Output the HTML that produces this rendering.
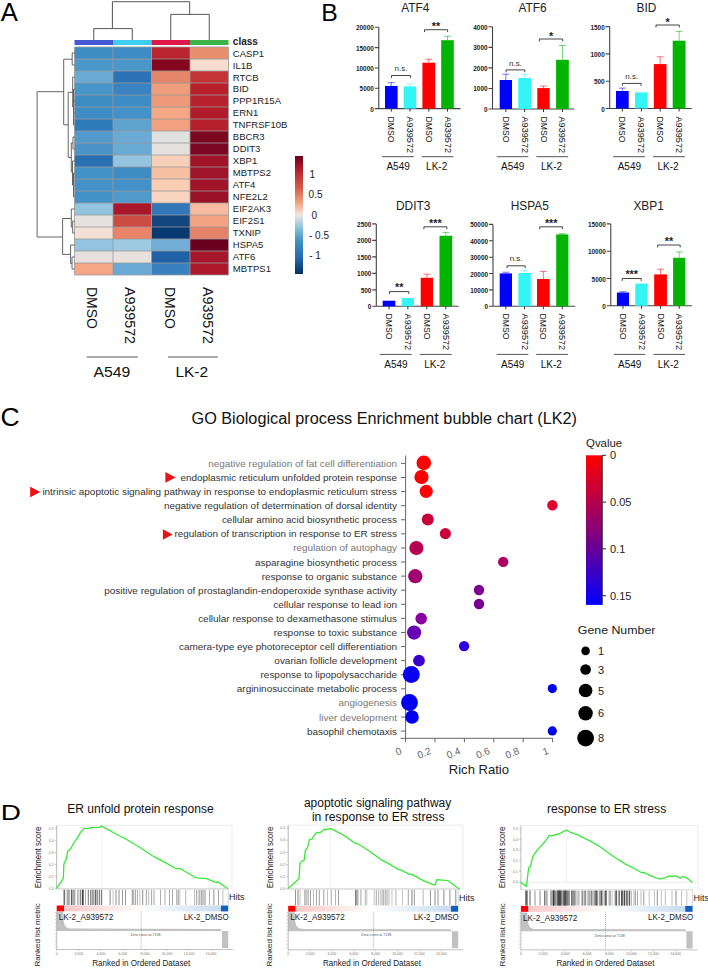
<!DOCTYPE html>
<html><head><meta charset="utf-8"><style>
html,body{margin:0;padding:0;background:#fff;width:708px;height:968px;overflow:hidden}
svg{display:block}
text{font-family:"Liberation Sans",sans-serif}
</style></head><body>
<svg width="708" height="968" viewBox="0 0 708 968">
<rect width="708" height="968" fill="#fff"/>
<text x="0.8" y="21.2" font-size="25.6" fill="#000" text-anchor="start" >A</text>
<rect x="74.5" y="40" width="38.5" height="5" fill="#4458d4"/>
<rect x="113.0" y="40" width="38.5" height="5" fill="#3ccdf0"/>
<rect x="151.5" y="40" width="38.5" height="5" fill="#e0184a"/>
<rect x="190.0" y="40" width="38.5" height="5" fill="#3cb44a"/>
<rect x="74.5" y="47.0" width="38.5" height="12.0" fill="#3f8bc4"/>
<rect x="113.0" y="47.0" width="38.5" height="12.0" fill="#3f8bc4"/>
<rect x="151.5" y="47.0" width="38.5" height="12.0" fill="#b9242e"/>
<rect x="190.0" y="47.0" width="38.5" height="12.0" fill="#ea8f6e"/>
<rect x="74.5" y="59.0" width="38.5" height="12.0" fill="#4b97c9"/>
<rect x="113.0" y="59.0" width="38.5" height="12.0" fill="#4b97c9"/>
<rect x="151.5" y="59.0" width="38.5" height="12.0" fill="#85061f"/>
<rect x="190.0" y="59.0" width="38.5" height="12.0" fill="#f6dccd"/>
<rect x="74.5" y="71.0" width="38.5" height="12.0" fill="#6aaad4"/>
<rect x="113.0" y="71.0" width="38.5" height="12.0" fill="#2b73b5"/>
<rect x="151.5" y="71.0" width="38.5" height="12.0" fill="#e5866a"/>
<rect x="190.0" y="71.0" width="38.5" height="12.0" fill="#c33438"/>
<rect x="74.5" y="83.0" width="38.5" height="12.0" fill="#4595c8"/>
<rect x="113.0" y="83.0" width="38.5" height="12.0" fill="#3a82c0"/>
<rect x="151.5" y="83.0" width="38.5" height="12.0" fill="#ef9c7c"/>
<rect x="190.0" y="83.0" width="38.5" height="12.0" fill="#b7202b"/>
<rect x="74.5" y="95.0" width="38.5" height="12.0" fill="#3d8cc4"/>
<rect x="113.0" y="95.0" width="38.5" height="12.0" fill="#3d8cc4"/>
<rect x="151.5" y="95.0" width="38.5" height="12.0" fill="#ee9a7a"/>
<rect x="190.0" y="95.0" width="38.5" height="12.0" fill="#b8222c"/>
<rect x="74.5" y="107.0" width="38.5" height="12.0" fill="#3d8cc4"/>
<rect x="113.0" y="107.0" width="38.5" height="12.0" fill="#4391c6"/>
<rect x="151.5" y="107.0" width="38.5" height="12.0" fill="#f4a886"/>
<rect x="190.0" y="107.0" width="38.5" height="12.0" fill="#b01b2b"/>
<rect x="74.5" y="119.0" width="38.5" height="12.0" fill="#2f7ab9"/>
<rect x="113.0" y="119.0" width="38.5" height="12.0" fill="#5fa3d0"/>
<rect x="151.5" y="119.0" width="38.5" height="12.0" fill="#f1a080"/>
<rect x="190.0" y="119.0" width="38.5" height="12.0" fill="#b6202c"/>
<rect x="74.5" y="131.0" width="38.5" height="12.0" fill="#529acc"/>
<rect x="113.0" y="131.0" width="38.5" height="12.0" fill="#6aaad4"/>
<rect x="151.5" y="131.0" width="38.5" height="12.0" fill="#e0e0e0"/>
<rect x="190.0" y="131.0" width="38.5" height="12.0" fill="#7a0821"/>
<rect x="74.5" y="143.0" width="38.5" height="12.0" fill="#4a94c8"/>
<rect x="113.0" y="143.0" width="38.5" height="12.0" fill="#6aabd4"/>
<rect x="151.5" y="143.0" width="38.5" height="12.0" fill="#e4e1df"/>
<rect x="190.0" y="143.0" width="38.5" height="12.0" fill="#7c0722"/>
<rect x="74.5" y="155.0" width="38.5" height="12.0" fill="#2a6fb2"/>
<rect x="113.0" y="155.0" width="38.5" height="12.0" fill="#94c4df"/>
<rect x="151.5" y="155.0" width="38.5" height="12.0" fill="#f8cfb8"/>
<rect x="190.0" y="155.0" width="38.5" height="12.0" fill="#a0142a"/>
<rect x="74.5" y="167.0" width="38.5" height="12.0" fill="#4391c6"/>
<rect x="113.0" y="167.0" width="38.5" height="12.0" fill="#3e8cc3"/>
<rect x="151.5" y="167.0" width="38.5" height="12.0" fill="#f6c0a2"/>
<rect x="190.0" y="167.0" width="38.5" height="12.0" fill="#a0142a"/>
<rect x="74.5" y="179.0" width="38.5" height="12.0" fill="#4391c6"/>
<rect x="113.0" y="179.0" width="38.5" height="12.0" fill="#4391c6"/>
<rect x="151.5" y="179.0" width="38.5" height="12.0" fill="#f8cdb4"/>
<rect x="190.0" y="179.0" width="38.5" height="12.0" fill="#a0142a"/>
<rect x="74.5" y="191.0" width="38.5" height="12.0" fill="#4391c6"/>
<rect x="113.0" y="191.0" width="38.5" height="12.0" fill="#4f99cb"/>
<rect x="151.5" y="191.0" width="38.5" height="12.0" fill="#f9d4be"/>
<rect x="190.0" y="191.0" width="38.5" height="12.0" fill="#991227"/>
<rect x="74.5" y="203.0" width="38.5" height="12.0" fill="#92c4de"/>
<rect x="113.0" y="203.0" width="38.5" height="12.0" fill="#a8182a"/>
<rect x="151.5" y="203.0" width="38.5" height="12.0" fill="#3277b7"/>
<rect x="190.0" y="203.0" width="38.5" height="12.0" fill="#f7bca0"/>
<rect x="74.5" y="215.0" width="38.5" height="12.0" fill="#e3e0de"/>
<rect x="113.0" y="215.0" width="38.5" height="12.0" fill="#cc4c44"/>
<rect x="151.5" y="215.0" width="38.5" height="12.0" fill="#13467f"/>
<rect x="190.0" y="215.0" width="38.5" height="12.0" fill="#f4a482"/>
<rect x="74.5" y="227.0" width="38.5" height="12.0" fill="#f4e0d6"/>
<rect x="113.0" y="227.0" width="38.5" height="12.0" fill="#e9846a"/>
<rect x="151.5" y="227.0" width="38.5" height="12.0" fill="#073a73"/>
<rect x="190.0" y="227.0" width="38.5" height="12.0" fill="#e58368"/>
<rect x="74.5" y="239.0" width="38.5" height="12.0" fill="#94c4df"/>
<rect x="113.0" y="239.0" width="38.5" height="12.0" fill="#9dc9e2"/>
<rect x="151.5" y="239.0" width="38.5" height="12.0" fill="#72add5"/>
<rect x="190.0" y="239.0" width="38.5" height="12.0" fill="#6a011f"/>
<rect x="74.5" y="251.0" width="38.5" height="12.0" fill="#e8e0dc"/>
<rect x="113.0" y="251.0" width="38.5" height="12.0" fill="#e8e1dd"/>
<rect x="151.5" y="251.0" width="38.5" height="12.0" fill="#2061a8"/>
<rect x="190.0" y="251.0" width="38.5" height="12.0" fill="#a8162b"/>
<rect x="74.5" y="263.0" width="38.5" height="12.0" fill="#f4a686"/>
<rect x="113.0" y="263.0" width="38.5" height="12.0" fill="#6aaad4"/>
<rect x="151.5" y="263.0" width="38.5" height="12.0" fill="#3980c0"/>
<rect x="190.0" y="263.0" width="38.5" height="12.0" fill="#ad182b"/>
<path d="M74.5,47.0H228.5M74.5,59.0H228.5M74.5,71.0H228.5M74.5,83.0H228.5M74.5,95.0H228.5M74.5,107.0H228.5M74.5,119.0H228.5M74.5,131.0H228.5M74.5,143.0H228.5M74.5,155.0H228.5M74.5,167.0H228.5M74.5,179.0H228.5M74.5,191.0H228.5M74.5,203.0H228.5M74.5,215.0H228.5M74.5,227.0H228.5M74.5,239.0H228.5M74.5,251.0H228.5M74.5,263.0H228.5M74.5,275.0H228.5M74.5,47.0V275.0M113.0,47.0V275.0M151.5,47.0V275.0M190.0,47.0V275.0M228.5,47.0V275.0" stroke="#9a9a9a" stroke-width="0.8" fill="none"/>
<g transform="translate(232.8,0) scale(0.975,1)">
<text x="0" y="45.2" font-size="10.3" fill="#222" text-anchor="start" font-weight="bold" >class</text>
<text x="0" y="56.6" font-size="9.8" fill="#222" text-anchor="start" >CASP1</text>
<text x="0" y="68.56" font-size="9.8" fill="#222" text-anchor="start" >IL1B</text>
<text x="0" y="80.52" font-size="9.8" fill="#222" text-anchor="start" >RTCB</text>
<text x="0" y="92.48" font-size="9.8" fill="#222" text-anchor="start" >BID</text>
<text x="0" y="104.44" font-size="9.8" fill="#222" text-anchor="start" >PPP1R15A</text>
<text x="0" y="116.4" font-size="9.8" fill="#222" text-anchor="start" >ERN1</text>
<text x="0" y="128.36" font-size="9.8" fill="#222" text-anchor="start" >TNFRSF10B</text>
<text x="0" y="140.32" font-size="9.8" fill="#222" text-anchor="start" >BBCR3</text>
<text x="0" y="152.28" font-size="9.8" fill="#222" text-anchor="start" >DDIT3</text>
<text x="0" y="164.24" font-size="9.8" fill="#222" text-anchor="start" >XBP1</text>
<text x="0" y="176.2" font-size="9.8" fill="#222" text-anchor="start" >MBTPS2</text>
<text x="0" y="188.16" font-size="9.8" fill="#222" text-anchor="start" >ATF4</text>
<text x="0" y="200.12" font-size="9.8" fill="#222" text-anchor="start" >NFE2L2</text>
<text x="0" y="212.08" font-size="9.8" fill="#222" text-anchor="start" >EIF2AK3</text>
<text x="0" y="224.04" font-size="9.8" fill="#222" text-anchor="start" >EIF2S1</text>
<text x="0" y="236.0" font-size="9.8" fill="#222" text-anchor="start" >TXNIP</text>
<text x="0" y="247.96" font-size="9.8" fill="#222" text-anchor="start" >HSPA5</text>
<text x="0" y="259.92" font-size="9.8" fill="#222" text-anchor="start" >ATF6</text>
<text x="0" y="271.88" font-size="9.8" fill="#222" text-anchor="start" >MBTPS1</text>
</g>
<path d="M112.4,28.6V1.7H189.7V14.4M93.75,40V28.6H132.25V40M170.75,40V14.4H209.25V40" stroke="#555" stroke-width="1" fill="none"/>
<path d="M37.1,91.7V237M37.1,91.7H63.7M63.7,59.2V124.8M63.7,59.2H72.2M72.2,53V65M72.2,53H74.5M72.2,65H74.5M63.7,124.8H68.2M68.2,92.3V157.4M68.2,92.3H72.7M72.7,77V107M72.7,77H74.5M72.7,107H73.5M73.5,89V125M73.5,89H74.5M73.5,101H74.5M73.5,113H74.5M73.5,125H74.5M68.2,157.4H71.3M71.3,143V172M71.3,143H73M73,137V149M73,137H74.5M73,149H74.5M71.3,172H72.5M72.5,161V185M72.5,161H74.5M72.5,185H73.5M73.5,173V197M73.5,173H74.5M73.5,197H74.5M37.1,237H62.6M62.6,218.5V254.4M62.6,218.5H71.3M71.3,209V227.2M71.3,209H74.5M71.3,227.2H72.7M72.7,221V233M72.7,221H74.5M72.7,233H74.5M62.6,254.4H70.6M70.6,245V263.4M70.6,245H74.5M70.6,263.4H72M72,257V269M72,257H74.5M72,269H74.5" stroke="#555" stroke-width="0.9" fill="none"/>
<defs><linearGradient id="rdbu" x1="0" y1="0" x2="0" y2="1"><stop offset="0" stop-color="#67001f"/><stop offset="0.1" stop-color="#b2182b"/><stop offset="0.28" stop-color="#d6604d"/><stop offset="0.4" stop-color="#f4a582"/><stop offset="0.5" stop-color="#f0e6e2"/><stop offset="0.6" stop-color="#92c5de"/><stop offset="0.72" stop-color="#4393c3"/><stop offset="0.87" stop-color="#2166ac"/><stop offset="1" stop-color="#053061"/></linearGradient><linearGradient id="qv" x1="0" y1="0" x2="0" y2="1"><stop offset="0" stop-color="#ff0000"/><stop offset="0.5" stop-color="#880078"/><stop offset="1" stop-color="#0000ff"/></linearGradient><linearGradient id="rb" x1="0" y1="0" x2="1" y2="0"><stop offset="0" stop-color="#ff0000"/><stop offset="0.04" stop-color="#ff0000"/><stop offset="0.045" stop-color="#f8c8c8"/><stop offset="0.5" stop-color="#ffffff"/><stop offset="0.955" stop-color="#c8dcf0"/><stop offset="0.96" stop-color="#1060c0"/><stop offset="1" stop-color="#1060c0"/></linearGradient></defs>
<rect x="295" y="156" width="8" height="118" fill="url(#rdbu)"/>
<text x="309.6" y="177.6" font-size="10" fill="#222" text-anchor="start" >1</text>
<text x="308.6" y="198.2" font-size="10" fill="#222" text-anchor="start" >0.5</text>
<text x="311.6" y="219.1" font-size="10" fill="#222" text-anchor="start" >0</text>
<text x="309" y="238.6" font-size="10" fill="#222" text-anchor="start" >- 0.5</text>
<text x="309.2" y="258.9" font-size="10" fill="#222" text-anchor="start" >- 1</text>
<text transform="translate(86.8,287) rotate(90)" x="0" y="0" font-size="15" fill="#111" textLength="41.8" lengthAdjust="spacingAndGlyphs">DMSO</text>
<text transform="translate(125.2,287) rotate(90)" x="0" y="0" font-size="15" fill="#111" textLength="57" lengthAdjust="spacingAndGlyphs">A939572</text>
<text transform="translate(164.7,287) rotate(90)" x="0" y="0" font-size="15" fill="#111" textLength="41.8" lengthAdjust="spacingAndGlyphs">DMSO</text>
<text transform="translate(203,287) rotate(90)" x="0" y="0" font-size="15" fill="#111" textLength="57" lengthAdjust="spacingAndGlyphs">A939572</text>
<path d="M86.8,357H137.8M167.9,357H217.8" stroke="#555" stroke-width="1.1"/>
<text x="93.5" y="377" font-size="15.5" fill="#111" text-anchor="start" textLength="36.8" lengthAdjust="spacingAndGlyphs" >A549</text>
<text x="175.4" y="377" font-size="15.5" fill="#111" text-anchor="start" textLength="32.7" lengthAdjust="spacingAndGlyphs" >LK-2</text>
<text x="321.2" y="20.9" font-size="24.8" fill="#000" text-anchor="start" >B</text>
<text x="415.3" y="11.9" font-size="11.9" fill="#222" text-anchor="middle" >ATF4</text>
<path d="M378.8,27.2V108.6H460.5M374.8,27.2H378.8M374.8,47.6H378.8M374.8,68H378.8M374.8,88.3H378.8M374.8,108.6H378.8" stroke="#444" stroke-width="1.1" fill="none"/>
<text x="373.8" y="30.2" font-size="6.4" fill="#222" text-anchor="end" font-weight="bold" >20000</text>
<text x="373.8" y="50.6" font-size="6.4" fill="#222" text-anchor="end" font-weight="bold" >15000</text>
<text x="373.8" y="71.0" font-size="6.4" fill="#222" text-anchor="end" font-weight="bold" >10000</text>
<text x="373.8" y="91.3" font-size="6.4" fill="#222" text-anchor="end" font-weight="bold" >5000</text>
<text x="373.8" y="111.6" font-size="6.4" fill="#222" text-anchor="end" font-weight="bold" >0</text>
<rect x="385" y="85.9" width="12.600000000000023" height="22.69999999999999" fill="#0000ff"/>
<path d="M391.3,85.9V82.7M387.8,82.7H394.8" stroke="#0000ff" stroke-width="1" opacity="0.55" fill="none"/>
<path d="M391.3,108.6V111.6" stroke="#333" stroke-width="1" fill="none"/>
<rect x="403.7" y="86.4" width="12.5" height="22.19999999999999" fill="#33f5f5"/>
<path d="M409.95,86.4V84M406.45,84H413.45" stroke="#33f5f5" stroke-width="1" opacity="0.55" fill="none"/>
<path d="M409.95,108.6V111.6" stroke="#333" stroke-width="1" fill="none"/>
<rect x="422.4" y="62.7" width="12.800000000000011" height="45.89999999999999" fill="#ff0000"/>
<path d="M428.79999999999995,62.7V59.3M425.29999999999995,59.3H432.29999999999995" stroke="#ff0000" stroke-width="1" opacity="0.55" fill="none"/>
<path d="M428.79999999999995,108.6V111.6" stroke="#333" stroke-width="1" fill="none"/>
<rect x="441.2" y="40.2" width="12.600000000000023" height="68.39999999999999" fill="#00b400"/>
<path d="M447.5,40.2V36.2M444.0,36.2H451.0" stroke="#00b400" stroke-width="1" opacity="0.55" fill="none"/>
<path d="M447.5,108.6V111.6" stroke="#333" stroke-width="1" fill="none"/>
<path d="M391.5,77.9V75.5H410.4V77.9" stroke="#444" stroke-width="1" fill="none"/>
<text x="400.95" y="71.2" font-size="8" fill="#333" text-anchor="middle" >n.s.</text>
<path d="M424.5,32.1V29.7H447.6V32.1" stroke="#444" stroke-width="1" fill="none"/>
<text x="436.05" y="30.2" font-size="10.8" fill="#222" text-anchor="middle" font-weight="bold" >**</text>
<text transform="translate(388.3,116.5) rotate(90)" font-size="9.8" fill="#111" textLength="26" lengthAdjust="spacingAndGlyphs">DMSO</text>
<text transform="translate(406.95,116.5) rotate(90)" font-size="9.8" fill="#111" textLength="36.6" lengthAdjust="spacingAndGlyphs">A939572</text>
<text transform="translate(425.79999999999995,116.5) rotate(90)" font-size="9.8" fill="#111" textLength="26" lengthAdjust="spacingAndGlyphs">DMSO</text>
<text transform="translate(444.5,116.5) rotate(90)" font-size="9.8" fill="#111" textLength="36.6" lengthAdjust="spacingAndGlyphs">A939572</text>
<path d="M382.1,156.7H413.8M421.7,156.7H453.3" stroke="#555" stroke-width="1"/>
<text x="398.125" y="169.7" font-size="10" fill="#111" text-anchor="middle" >A549</text>
<text x="436.65" y="169.7" font-size="10" fill="#111" text-anchor="middle" >LK-2</text>
<text x="532.5" y="12.2" font-size="11.9" fill="#222" text-anchor="middle" >ATF6</text>
<path d="M492.5,26.8V109H574.2M488.5,26.8H492.5M488.5,47.35H492.5M488.5,67.9H492.5M488.5,88.45H492.5M488.5,109H492.5" stroke="#444" stroke-width="1.1" fill="none"/>
<text x="487.5" y="29.8" font-size="6.4" fill="#222" text-anchor="end" font-weight="bold" >4000</text>
<text x="487.5" y="50.35" font-size="6.4" fill="#222" text-anchor="end" font-weight="bold" >3000</text>
<text x="487.5" y="70.9" font-size="6.4" fill="#222" text-anchor="end" font-weight="bold" >2000</text>
<text x="487.5" y="91.45" font-size="6.4" fill="#222" text-anchor="end" font-weight="bold" >1000</text>
<text x="487.5" y="112.0" font-size="6.4" fill="#222" text-anchor="end" font-weight="bold" >0</text>
<rect x="499.7" y="80" width="12.300000000000011" height="29" fill="#0000ff"/>
<path d="M505.85,80V74.2M502.35,74.2H509.35" stroke="#0000ff" stroke-width="1" opacity="0.55" fill="none"/>
<path d="M505.85,109V112" stroke="#333" stroke-width="1" fill="none"/>
<rect x="518.3" y="78" width="12.700000000000045" height="31" fill="#33f5f5"/>
<path d="M524.65,78V74.2M521.15,74.2H528.15" stroke="#33f5f5" stroke-width="1" opacity="0.55" fill="none"/>
<path d="M524.65,109V112" stroke="#333" stroke-width="1" fill="none"/>
<rect x="537.3" y="88.1" width="12.400000000000091" height="20.900000000000006" fill="#ff0000"/>
<path d="M543.5,88.1V86.1M540.0,86.1H547.0" stroke="#ff0000" stroke-width="1" opacity="0.55" fill="none"/>
<path d="M543.5,109V112" stroke="#333" stroke-width="1" fill="none"/>
<rect x="556.1" y="59.8" width="12.699999999999932" height="49.2" fill="#00b400"/>
<path d="M562.45,59.8V45.4M558.95,45.4H565.95" stroke="#00b400" stroke-width="1" opacity="0.55" fill="none"/>
<path d="M562.45,109V112" stroke="#333" stroke-width="1" fill="none"/>
<path d="M506.1,72.3V69.9H524.8V72.3" stroke="#444" stroke-width="1" fill="none"/>
<text x="515.45" y="65.8" font-size="8" fill="#333" text-anchor="middle" >n.s.</text>
<path d="M539.4,41.4V39.0H562.7V41.4" stroke="#444" stroke-width="1" fill="none"/>
<text x="551.05" y="39.5" font-size="10.8" fill="#222" text-anchor="middle" font-weight="bold" >*</text>
<text transform="translate(502.85,116.5) rotate(90)" font-size="9.8" fill="#111" textLength="26" lengthAdjust="spacingAndGlyphs">DMSO</text>
<text transform="translate(521.65,116.5) rotate(90)" font-size="9.8" fill="#111" textLength="36.6" lengthAdjust="spacingAndGlyphs">A939572</text>
<text transform="translate(540.5,116.5) rotate(90)" font-size="9.8" fill="#111" textLength="26" lengthAdjust="spacingAndGlyphs">DMSO</text>
<text transform="translate(559.45,116.5) rotate(90)" font-size="9.8" fill="#111" textLength="36.6" lengthAdjust="spacingAndGlyphs">A939572</text>
<path d="M496.7,156.7H528.4M536.4,156.7H568.2" stroke="#555" stroke-width="1"/>
<text x="512.75" y="169.7" font-size="10" fill="#111" text-anchor="middle" >A549</text>
<text x="551.475" y="169.7" font-size="10" fill="#111" text-anchor="middle" >LK-2</text>
<text x="646.5" y="11.9" font-size="11.9" fill="#222" text-anchor="middle" >BID</text>
<path d="M609.7,26.6V108.5H691.7M605.7,26.6H609.7M605.7,53.9H609.7M605.7,81.2H609.7M605.7,108.5H609.7" stroke="#444" stroke-width="1.1" fill="none"/>
<text x="604.7" y="29.6" font-size="6.4" fill="#222" text-anchor="end" font-weight="bold" >1500</text>
<text x="604.7" y="56.9" font-size="6.4" fill="#222" text-anchor="end" font-weight="bold" >1000</text>
<text x="604.7" y="84.2" font-size="6.4" fill="#222" text-anchor="end" font-weight="bold" >500</text>
<text x="604.7" y="111.5" font-size="6.4" fill="#222" text-anchor="end" font-weight="bold" >0</text>
<rect x="616" y="91" width="12.700000000000045" height="17.5" fill="#0000ff"/>
<path d="M622.35,91V88.1M618.85,88.1H625.85" stroke="#0000ff" stroke-width="1" opacity="0.55" fill="none"/>
<path d="M622.35,108.5V111.5" stroke="#333" stroke-width="1" fill="none"/>
<rect x="635" y="92.4" width="12.700000000000045" height="16.099999999999994" fill="#33f5f5"/>
<path d="M641.35,108.5V111.5" stroke="#333" stroke-width="1" fill="none"/>
<rect x="653.8" y="64.1" width="12.700000000000045" height="44.400000000000006" fill="#ff0000"/>
<path d="M660.15,64.1V56.8M656.65,56.8H663.65" stroke="#ff0000" stroke-width="1" opacity="0.55" fill="none"/>
<path d="M660.15,108.5V111.5" stroke="#333" stroke-width="1" fill="none"/>
<rect x="672.7" y="40.7" width="12.799999999999955" height="67.8" fill="#00b400"/>
<path d="M679.1,40.7V31.4M675.6,31.4H682.6" stroke="#00b400" stroke-width="1" opacity="0.55" fill="none"/>
<path d="M679.1,108.5V111.5" stroke="#333" stroke-width="1" fill="none"/>
<path d="M622.4,85.8V83.4H641.1V85.8" stroke="#444" stroke-width="1" fill="none"/>
<text x="631.75" y="78.8" font-size="8" fill="#333" text-anchor="middle" >n.s.</text>
<path d="M656.0,27.4V25.0H679.3V27.4" stroke="#444" stroke-width="1" fill="none"/>
<text x="667.65" y="25.5" font-size="10.8" fill="#222" text-anchor="middle" font-weight="bold" >*</text>
<text transform="translate(619.35,116.5) rotate(90)" font-size="9.8" fill="#111" textLength="26" lengthAdjust="spacingAndGlyphs">DMSO</text>
<text transform="translate(638.35,116.5) rotate(90)" font-size="9.8" fill="#111" textLength="36.6" lengthAdjust="spacingAndGlyphs">A939572</text>
<text transform="translate(657.15,116.5) rotate(90)" font-size="9.8" fill="#111" textLength="26" lengthAdjust="spacingAndGlyphs">DMSO</text>
<text transform="translate(676.1,116.5) rotate(90)" font-size="9.8" fill="#111" textLength="36.6" lengthAdjust="spacingAndGlyphs">A939572</text>
<path d="M613.1,156.7H645.1M653.0,156.7H684.9" stroke="#555" stroke-width="1"/>
<text x="629.35" y="169.7" font-size="10" fill="#111" text-anchor="middle" >A549</text>
<text x="668.125" y="169.7" font-size="10" fill="#111" text-anchor="middle" >LK-2</text>
<text x="413.2" y="209.8" font-size="11.9" fill="#222" text-anchor="middle" >DDIT3</text>
<path d="M376.3,223.9V306.3H458.5M372.3,223.9H376.3M372.3,240.4H376.3M372.3,256.9H376.3M372.3,273.4H376.3M372.3,289.9H376.3M372.3,306.3H376.3" stroke="#444" stroke-width="1.1" fill="none"/>
<text x="371.3" y="226.9" font-size="6.4" fill="#222" text-anchor="end" font-weight="bold" >2500</text>
<text x="371.3" y="243.4" font-size="6.4" fill="#222" text-anchor="end" font-weight="bold" >2000</text>
<text x="371.3" y="259.9" font-size="6.4" fill="#222" text-anchor="end" font-weight="bold" >1500</text>
<text x="371.3" y="276.4" font-size="6.4" fill="#222" text-anchor="end" font-weight="bold" >1000</text>
<text x="371.3" y="292.9" font-size="6.4" fill="#222" text-anchor="end" font-weight="bold" >500</text>
<text x="371.3" y="309.3" font-size="6.4" fill="#222" text-anchor="end" font-weight="bold" >0</text>
<rect x="382.7" y="300.7" width="12.600000000000023" height="5.600000000000023" fill="#0000ff"/>
<path d="M389.0,306.3V309.3" stroke="#333" stroke-width="1" fill="none"/>
<rect x="401.7" y="298.1" width="12.300000000000011" height="8.199999999999989" fill="#33f5f5"/>
<path d="M407.85,306.3V309.3" stroke="#333" stroke-width="1" fill="none"/>
<rect x="420.7" y="277.8" width="12.300000000000011" height="28.5" fill="#ff0000"/>
<path d="M426.85,277.8V274.2M423.35,274.2H430.35" stroke="#ff0000" stroke-width="1" opacity="0.55" fill="none"/>
<path d="M426.85,306.3V309.3" stroke="#333" stroke-width="1" fill="none"/>
<rect x="439.5" y="235.8" width="12.699999999999989" height="70.5" fill="#00b400"/>
<path d="M445.85,235.8V232.4M442.35,232.4H449.35" stroke="#00b400" stroke-width="1" opacity="0.55" fill="none"/>
<path d="M445.85,306.3V309.3" stroke="#333" stroke-width="1" fill="none"/>
<path d="M389.5,294.0V291.6H408.8V294.0" stroke="#444" stroke-width="1" fill="none"/>
<text x="399.15" y="290.9" font-size="10.8" fill="#222" text-anchor="middle" font-weight="bold" >**</text>
<path d="M423.9,229.2V226.8H446.8V229.2" stroke="#444" stroke-width="1" fill="none"/>
<text x="435.35" y="227.4" font-size="10.8" fill="#222" text-anchor="middle" font-weight="bold" >***</text>
<text transform="translate(386.0,313.6) rotate(90)" font-size="9.8" fill="#111" textLength="26" lengthAdjust="spacingAndGlyphs">DMSO</text>
<text transform="translate(404.85,313.6) rotate(90)" font-size="9.8" fill="#111" textLength="36.6" lengthAdjust="spacingAndGlyphs">A939572</text>
<text transform="translate(423.85,313.6) rotate(90)" font-size="9.8" fill="#111" textLength="26" lengthAdjust="spacingAndGlyphs">DMSO</text>
<text transform="translate(442.85,313.6) rotate(90)" font-size="9.8" fill="#111" textLength="36.6" lengthAdjust="spacingAndGlyphs">A939572</text>
<path d="M379.8,354.4H411.7M419.8,354.4H451.7" stroke="#555" stroke-width="1"/>
<text x="395.925" y="367.6" font-size="10" fill="#111" text-anchor="middle" >A549</text>
<text x="434.85" y="367.6" font-size="10" fill="#111" text-anchor="middle" >LK-2</text>
<text x="529.8" y="209.8" font-size="11.9" fill="#222" text-anchor="middle" >HSPA5</text>
<path d="M493,224.4V306.3H575.2M489,224.4H493M489,240.8H493M489,257.2H493M489,273.5H493M489,289.9H493M489,306.3H493" stroke="#444" stroke-width="1.1" fill="none"/>
<text x="488" y="227.4" font-size="6.4" fill="#222" text-anchor="end" font-weight="bold" >50000</text>
<text x="488" y="243.8" font-size="6.4" fill="#222" text-anchor="end" font-weight="bold" >40000</text>
<text x="488" y="260.2" font-size="6.4" fill="#222" text-anchor="end" font-weight="bold" >30000</text>
<text x="488" y="276.5" font-size="6.4" fill="#222" text-anchor="end" font-weight="bold" >20000</text>
<text x="488" y="292.9" font-size="6.4" fill="#222" text-anchor="end" font-weight="bold" >10000</text>
<text x="488" y="309.3" font-size="6.4" fill="#222" text-anchor="end" font-weight="bold" >0</text>
<rect x="499.7" y="273.4" width="12.300000000000011" height="32.900000000000034" fill="#0000ff"/>
<path d="M505.85,273.4V272.2M502.35,272.2H509.35" stroke="#0000ff" stroke-width="1" opacity="0.55" fill="none"/>
<path d="M505.85,306.3V309.3" stroke="#333" stroke-width="1" fill="none"/>
<rect x="518.4" y="273" width="12.399999999999977" height="33.30000000000001" fill="#33f5f5"/>
<path d="M524.5999999999999,273V270.2M521.0999999999999,270.2H528.0999999999999" stroke="#33f5f5" stroke-width="1" opacity="0.55" fill="none"/>
<path d="M524.5999999999999,306.3V309.3" stroke="#333" stroke-width="1" fill="none"/>
<rect x="537" y="279" width="12.700000000000045" height="27.30000000000001" fill="#ff0000"/>
<path d="M543.35,279V271.4M539.85,271.4H546.85" stroke="#ff0000" stroke-width="1" opacity="0.55" fill="none"/>
<path d="M543.35,306.3V309.3" stroke="#333" stroke-width="1" fill="none"/>
<rect x="556.2" y="234.4" width="12.199999999999932" height="71.9" fill="#00b400"/>
<path d="M562.3,234.4V233.7M558.8,233.7H565.8" stroke="#00b400" stroke-width="1" opacity="0.55" fill="none"/>
<path d="M562.3,306.3V309.3" stroke="#333" stroke-width="1" fill="none"/>
<path d="M507.0,268.2V265.8H525.2V268.2" stroke="#444" stroke-width="1" fill="none"/>
<text x="516.1" y="261.2" font-size="8" fill="#333" text-anchor="middle" >n.s.</text>
<path d="M539.8,229.2V226.8H562.6V229.2" stroke="#444" stroke-width="1" fill="none"/>
<text x="551.2" y="227.4" font-size="10.8" fill="#222" text-anchor="middle" font-weight="bold" >***</text>
<text transform="translate(502.85,313.6) rotate(90)" font-size="9.8" fill="#111" textLength="26" lengthAdjust="spacingAndGlyphs">DMSO</text>
<text transform="translate(521.5999999999999,313.6) rotate(90)" font-size="9.8" fill="#111" textLength="36.6" lengthAdjust="spacingAndGlyphs">A939572</text>
<text transform="translate(540.35,313.6) rotate(90)" font-size="9.8" fill="#111" textLength="26" lengthAdjust="spacingAndGlyphs">DMSO</text>
<text transform="translate(559.3,313.6) rotate(90)" font-size="9.8" fill="#111" textLength="36.6" lengthAdjust="spacingAndGlyphs">A939572</text>
<path d="M496.7,354.4H528.4M536.2,354.4H568.1" stroke="#555" stroke-width="1"/>
<text x="512.7249999999999" y="367.6" font-size="10" fill="#111" text-anchor="middle" >A549</text>
<text x="551.325" y="367.6" font-size="10" fill="#111" text-anchor="middle" >LK-2</text>
<text x="648.6" y="209.5" font-size="11.9" fill="#222" text-anchor="middle" >XBP1</text>
<path d="M610.8,223.9V305.8H691.8M606.8,223.9H610.8M606.8,251.2H610.8M606.8,278.5H610.8M606.8,305.8H610.8" stroke="#444" stroke-width="1.1" fill="none"/>
<text x="605.8" y="226.9" font-size="6.4" fill="#222" text-anchor="end" font-weight="bold" >15000</text>
<text x="605.8" y="254.2" font-size="6.4" fill="#222" text-anchor="end" font-weight="bold" >10000</text>
<text x="605.8" y="281.5" font-size="6.4" fill="#222" text-anchor="end" font-weight="bold" >5000</text>
<text x="605.8" y="308.8" font-size="6.4" fill="#222" text-anchor="end" font-weight="bold" >0</text>
<rect x="616.9" y="292.5" width="12.100000000000023" height="13.300000000000011" fill="#0000ff"/>
<path d="M622.95,292.5V291.7M619.45,291.7H626.45" stroke="#0000ff" stroke-width="1" opacity="0.55" fill="none"/>
<path d="M622.95,305.8V308.8" stroke="#333" stroke-width="1" fill="none"/>
<rect x="635.3" y="283.6" width="12.400000000000091" height="22.19999999999999" fill="#33f5f5"/>
<path d="M641.5,305.8V308.8" stroke="#333" stroke-width="1" fill="none"/>
<rect x="654.2" y="274.4" width="12.699999999999932" height="31.400000000000034" fill="#ff0000"/>
<path d="M660.55,274.4V269.2M657.05,269.2H664.05" stroke="#ff0000" stroke-width="1" opacity="0.55" fill="none"/>
<path d="M660.55,305.8V308.8" stroke="#333" stroke-width="1" fill="none"/>
<rect x="673.1" y="257.8" width="12.199999999999932" height="48.0" fill="#00b400"/>
<path d="M679.2,257.8V251.9M675.7,251.9H682.7" stroke="#00b400" stroke-width="1" opacity="0.55" fill="none"/>
<path d="M679.2,305.8V308.8" stroke="#333" stroke-width="1" fill="none"/>
<path d="M622.2,280.9V278.5H641.2V280.9" stroke="#444" stroke-width="1" fill="none"/>
<text x="631.7" y="278.4" font-size="10.8" fill="#222" text-anchor="middle" font-weight="bold" >***</text>
<path d="M657.7,247.4V245.0H680.2V247.4" stroke="#444" stroke-width="1" fill="none"/>
<text x="668.95" y="245.4" font-size="10.8" fill="#222" text-anchor="middle" font-weight="bold" >**</text>
<text transform="translate(619.95,313.6) rotate(90)" font-size="9.8" fill="#111" textLength="26" lengthAdjust="spacingAndGlyphs">DMSO</text>
<text transform="translate(638.5,313.6) rotate(90)" font-size="9.8" fill="#111" textLength="36.6" lengthAdjust="spacingAndGlyphs">A939572</text>
<text transform="translate(657.55,313.6) rotate(90)" font-size="9.8" fill="#111" textLength="26" lengthAdjust="spacingAndGlyphs">DMSO</text>
<text transform="translate(676.2,313.6) rotate(90)" font-size="9.8" fill="#111" textLength="36.6" lengthAdjust="spacingAndGlyphs">A939572</text>
<path d="M613.8,354.4H645.3M653.4,354.4H685.0" stroke="#555" stroke-width="1"/>
<text x="629.725" y="367.6" font-size="10" fill="#111" text-anchor="middle" >A549</text>
<text x="668.375" y="367.6" font-size="10" fill="#111" text-anchor="middle" >LK-2</text>
<text x="0.6" y="426.2" font-size="26.5" fill="#000" text-anchor="start" >C</text>
<text x="191.5" y="423.5" font-size="15.6" fill="#111" text-anchor="start" textLength="385.5" lengthAdjust="spacingAndGlyphs" >GO Biological process Enrichment bubble chart (LK2)</text>
<text x="397" y="466.9" font-size="9.95" fill="#777" text-anchor="end" >negative regulation of fat cell differentiation</text>
<text x="397" y="480.98999999999995" font-size="9.95" fill="#333" text-anchor="end" >endoplasmic reticulum unfolded protein response</text>
<text x="397" y="495.08" font-size="9.95" fill="#333" text-anchor="end" >intrinsic apoptotic signaling pathway in response to endoplasmic reticulum stress</text>
<text x="397" y="509.16999999999996" font-size="9.95" fill="#333" text-anchor="end" >negative regulation of determination of dorsal identity</text>
<text x="397" y="523.26" font-size="9.95" fill="#333" text-anchor="end" >cellular amino acid biosynthetic process</text>
<text x="397" y="537.35" font-size="9.95" fill="#333" text-anchor="end" >regulation of transcription in response to ER stress</text>
<text x="397" y="551.4399999999999" font-size="9.95" fill="#777" text-anchor="end" >regulation of autophagy</text>
<text x="397" y="565.53" font-size="9.95" fill="#333" text-anchor="end" >asparagine biosynthetic process</text>
<text x="397" y="579.62" font-size="9.95" fill="#333" text-anchor="end" >response to organic substance</text>
<text x="397" y="593.71" font-size="9.95" fill="#333" text-anchor="end" >positive regulation of prostaglandin-endoperoxide synthase activity</text>
<text x="397" y="607.8" font-size="9.95" fill="#333" text-anchor="end" >cellular response to lead ion</text>
<text x="397" y="621.89" font-size="9.95" fill="#333" text-anchor="end" >cellular response to dexamethasone stimulus</text>
<text x="397" y="635.98" font-size="9.95" fill="#333" text-anchor="end" >response to toxic substance</text>
<text x="397" y="650.0699999999999" font-size="9.95" fill="#333" text-anchor="end" >camera-type eye photoreceptor cell differentiation</text>
<text x="397" y="664.16" font-size="9.95" fill="#333" text-anchor="end" >ovarian follicle development</text>
<text x="397" y="678.25" font-size="9.95" fill="#333" text-anchor="end" >response to lipopolysaccharide</text>
<text x="397" y="692.3399999999999" font-size="9.95" fill="#333" text-anchor="end" >argininosuccinate metabolic process</text>
<text x="397" y="706.43" font-size="9.95" fill="#777" text-anchor="end" >angiogenesis</text>
<text x="397" y="720.52" font-size="9.95" fill="#777" text-anchor="end" >liver development</text>
<text x="397" y="734.6099999999999" font-size="9.95" fill="#333" text-anchor="end" >basophil chemotaxis</text>
<path d="M405.6,455.5V738.3M400.5,738.3H552.7M401,463.40H405.6M401,477.49H405.6M401,491.58H405.6M401,505.67H405.6M401,519.76H405.6M401,533.85H405.6M401,547.94H405.6M401,562.03H405.6M401,576.12H405.6M401,590.21H405.6M401,604.30H405.6M401,618.39H405.6M401,632.48H405.6M401,646.57H405.6M401,660.66H405.6M401,674.75H405.6M401,688.84H405.6M401,702.93H405.6M401,717.02H405.6M401,731.11H405.6M405.6,738.3V742.3M435.0,738.3V742.3M464.4,738.3V742.3M493.8,738.3V742.3M523.2,738.3V742.3M552.6,738.3V742.3" stroke="#666" stroke-width="1" fill="none"/>
<path d="M165.4,472.09999999999997L175.6,477.4L165.4,482.7Z" fill="#ee1111"/>
<path d="M30.2,486.7L40.3,492L30.2,497.3Z" fill="#ee1111"/>
<path d="M162.9,529.2L172.6,534.5L162.9,539.8Z" fill="#ee1111"/>
<circle cx="423.8" cy="462.9" r="7.3" fill="#ff0000"/>
<circle cx="421.5" cy="477" r="7.1" fill="#ff0000"/>
<circle cx="426.2" cy="491.3" r="6.6" fill="#fd0406"/>
<circle cx="552.4" cy="505.2" r="5.2" fill="#e00030"/>
<circle cx="427.8" cy="519.4" r="6.0" fill="#c8003c"/>
<circle cx="445.4" cy="533.6" r="5.6" fill="#c8003c"/>
<circle cx="416.4" cy="548" r="7.1" fill="#b4004e"/>
<circle cx="503.2" cy="561.9" r="5.2" fill="#b00060"/>
<circle cx="415.3" cy="576.2" r="7.1" fill="#a00070"/>
<circle cx="479" cy="590" r="5.2" fill="#7a0094"/>
<circle cx="479" cy="604" r="5.2" fill="#7a0094"/>
<circle cx="421.2" cy="618.6" r="5.8" fill="#8800a0"/>
<circle cx="414.1" cy="632.6" r="7.1" fill="#6800b4"/>
<circle cx="464.1" cy="646.1" r="5.2" fill="#3000dc"/>
<circle cx="419" cy="660.7" r="5.9" fill="#3c00cc"/>
<circle cx="411.3" cy="674.6" r="8.5" fill="#0a00f0"/>
<circle cx="552.3" cy="688.6" r="4.6" fill="#0000f0"/>
<circle cx="409.5" cy="702.5" r="8.4" fill="#0000f0"/>
<circle cx="412" cy="717" r="6.8" fill="#0000f0"/>
<circle cx="552.3" cy="730.9" r="4.6" fill="#0000f0"/>
<text transform="translate(402.4,753.5) rotate(-22)" font-size="10" fill="#666" text-anchor="end">0</text>
<text transform="translate(431.8,753.5) rotate(-22)" font-size="10" fill="#666" text-anchor="end">0.2</text>
<text transform="translate(461.2,753.5) rotate(-22)" font-size="10" fill="#666" text-anchor="end">0.4</text>
<text transform="translate(490.6,753.5) rotate(-22)" font-size="10" fill="#666" text-anchor="end">0.6</text>
<text transform="translate(520.0,753.5) rotate(-22)" font-size="10" fill="#666" text-anchor="end">0.8</text>
<text transform="translate(549.4,753.5) rotate(-22)" font-size="10" fill="#666" text-anchor="end">1</text>
<text x="448.8" y="773.6" font-size="13" fill="#222" text-anchor="start" textLength="60.2" lengthAdjust="spacingAndGlyphs" >Rich Ratio</text>
<text x="586" y="446.6" font-size="11" fill="#222" text-anchor="start" textLength="36.2" lengthAdjust="spacingAndGlyphs" >Qvalue</text>
<rect x="586" y="455.3" width="16.2" height="149.6" fill="url(#qv)"/>
<path d="M602.2,455.3V604.9M602.2,455.3H606M602.2,502.1H606M602.2,548.9H606M602.2,595.7H606" stroke="#222" stroke-width="1" fill="none"/>
<text x="610" y="459.3" font-size="11" fill="#222" text-anchor="start" >0</text>
<text x="610" y="506.1" font-size="11" fill="#222" text-anchor="start" >0.05</text>
<text x="610" y="552.9" font-size="11" fill="#222" text-anchor="start" >0.1</text>
<text x="610" y="599.7" font-size="11" fill="#222" text-anchor="start" >0.15</text>
<text x="577.8" y="633.8" font-size="11.5" fill="#222" text-anchor="start" textLength="77.6" lengthAdjust="spacingAndGlyphs" >Gene Number</text>
<circle cx="585.6" cy="650.9" r="4.3" fill="#000"/>
<text x="597.9" y="654.9" font-size="11" fill="#222" text-anchor="start" >1</text>
<circle cx="585.6" cy="669.5" r="5.3" fill="#000"/>
<text x="597.9" y="673.5" font-size="11" fill="#222" text-anchor="start" >3</text>
<circle cx="585.6" cy="690.5" r="6.8" fill="#000"/>
<text x="597.9" y="694.5" font-size="11" fill="#222" text-anchor="start" >5</text>
<circle cx="585.6" cy="713.3" r="7.2" fill="#000"/>
<text x="597.9" y="717.3" font-size="11" fill="#222" text-anchor="start" >6</text>
<circle cx="585.6" cy="738.1" r="8.4" fill="#000"/>
<text x="597.9" y="742.1" font-size="11" fill="#222" text-anchor="start" >8</text>
<text transform="translate(0.8,819.8) scale(1.27,1)" font-size="22" fill="#000">D</text>
<text x="67.2" y="812.5" font-size="12" fill="#111" text-anchor="start" textLength="146.5" lengthAdjust="spacingAndGlyphs" >ER unfold protein response</text>
<path d="M56.7,825.4V889" stroke="#999" stroke-width="0.7"/>
<path d="M54.7,888.6H56.7M54.7,876.6H56.7M54.7,864.5H56.7M54.7,852.5H56.7M54.7,840.4H56.7M54.7,828.4H56.7" stroke="#999" stroke-width="0.5"/>
<text x="53.7" y="889.8000000000001" font-size="3.5" fill="#777" text-anchor="end" >0.0</text>
<text x="53.7" y="877.7600000000001" font-size="3.5" fill="#777" text-anchor="end" >0.1</text>
<text x="53.7" y="865.72" font-size="3.5" fill="#777" text-anchor="end" >0.2</text>
<text x="53.7" y="853.6800000000001" font-size="3.5" fill="#777" text-anchor="end" >0.3</text>
<text x="53.7" y="841.64" font-size="3.5" fill="#777" text-anchor="end" >0.4</text>
<text x="53.7" y="829.6" font-size="3.5" fill="#777" text-anchor="end" >0.5</text>
<path d="M56.7,825.4H232V889M56.7,888.6H232" stroke="#ddd" stroke-width="0.6" fill="none"/>
<path d="M102,825.4V888.6" stroke="#ccc" stroke-width="0.5" stroke-dasharray="1,1"/>
<polyline points="56.3,888.7 63.3,878.6 63.9,864 66.4,858.9 67.7,851.2 70.3,849.3 74.1,842.3 76.6,839.2 81.1,831.5 84.9,828.1 86.8,828.6 90.6,827.7 95.7,827.7 98.9,827.3 102,826.2 105.8,828.4 119.8,836 126.2,839.2 140,847.5 154.8,857.2 162.1,860.9 176.2,868.7 179.6,868.3 195,877.3 199,878.1 205.7,878.4 216.5,882.6 217.8,881.7 227.9,888.8" fill="none" stroke="#3ae83a" stroke-width="1.3" stroke-linejoin="round"/>
<path d="M56.7,889H228.2V905.5" fill="none" stroke="#bbb" stroke-width="0.6"/>
<path d="M68.2,889.8V905.2" stroke="#333" stroke-width="0.8" opacity="0.67"/><path d="M92.8,889.8V905.2" stroke="#333" stroke-width="0.8" opacity="0.38"/><path d="M82.3,889.8V905.2" stroke="#333" stroke-width="0.8" opacity="0.47"/><path d="M88.4,889.8V905.2" stroke="#333" stroke-width="0.8" opacity="0.64"/><path d="M66.7,889.8V905.2" stroke="#333" stroke-width="0.8" opacity="0.26"/><path d="M95.6,889.8V905.2" stroke="#333" stroke-width="0.8" opacity="0.47"/><path d="M92.7,889.8V905.2" stroke="#333" stroke-width="0.8" opacity="0.25"/><path d="M80.4,889.8V905.2" stroke="#333" stroke-width="0.8" opacity="0.61"/><path d="M71.9,889.8V905.2" stroke="#333" stroke-width="0.8" opacity="0.72"/><path d="M98.2,889.8V905.2" stroke="#333" stroke-width="0.8" opacity="0.27"/><path d="M64.0,889.8V905.2" stroke="#333" stroke-width="0.8" opacity="0.52"/><path d="M99.6,889.8V905.2" stroke="#333" stroke-width="0.8" opacity="0.44"/><path d="M71.4,889.8V905.2" stroke="#333" stroke-width="0.8" opacity="0.46"/><path d="M64.1,889.8V905.2" stroke="#333" stroke-width="0.8" opacity="0.36"/><path d="M80.1,889.8V905.2" stroke="#333" stroke-width="0.8" opacity="0.5"/><path d="M72.1,889.8V905.2" stroke="#333" stroke-width="0.8" opacity="0.37"/><path d="M71.5,889.8V905.2" stroke="#333" stroke-width="0.8" opacity="0.48"/><path d="M74.3,889.8V905.2" stroke="#333" stroke-width="0.8" opacity="0.26"/><path d="M95.7,889.8V905.2" stroke="#333" stroke-width="0.8" opacity="0.53"/><path d="M88.0,889.8V905.2" stroke="#333" stroke-width="0.8" opacity="0.34"/><path d="M101.7,889.8V905.2" stroke="#333" stroke-width="0.8" opacity="0.68"/><path d="M67.7,889.8V905.2" stroke="#333" stroke-width="0.8" opacity="0.42"/><path d="M91.1,889.8V905.2" stroke="#333" stroke-width="0.8" opacity="0.61"/><path d="M99.5,889.8V905.2" stroke="#333" stroke-width="0.8" opacity="0.46"/><path d="M95.4,889.8V905.2" stroke="#333" stroke-width="0.8" opacity="0.59"/><path d="M74.8,889.8V905.2" stroke="#333" stroke-width="0.8" opacity="0.54"/><path d="M97.4,889.8V905.2" stroke="#333" stroke-width="0.8" opacity="0.67"/><path d="M82.7,889.8V905.2" stroke="#333" stroke-width="0.8" opacity="0.54"/><path d="M64.3,889.8V905.2" stroke="#333" stroke-width="0.8" opacity="0.37"/><path d="M94.1,889.8V905.2" stroke="#333" stroke-width="0.8" opacity="0.46"/><path d="M69.7,889.8V905.2" stroke="#333" stroke-width="0.8" opacity="0.52"/><path d="M90.4,889.8V905.2" stroke="#333" stroke-width="0.8" opacity="0.59"/><path d="M77.6,889.8V905.2" stroke="#333" stroke-width="0.8" opacity="0.47"/><path d="M82.8,889.8V905.2" stroke="#333" stroke-width="0.8" opacity="0.64"/><path d="M83.3,889.8V905.2" stroke="#333" stroke-width="0.8" opacity="0.45"/><path d="M82.1,889.8V905.2" stroke="#333" stroke-width="0.8" opacity="0.26"/><path d="M64.7,889.8V905.2" stroke="#333" stroke-width="0.8" opacity="0.6"/><path d="M101.3,889.8V905.2" stroke="#333" stroke-width="0.8" opacity="0.55"/><path d="M78.4,889.8V905.2" stroke="#333" stroke-width="0.8" opacity="0.34"/><path d="M82.6,889.8V905.2" stroke="#333" stroke-width="0.8" opacity="0.74"/><path d="M93.1,889.8V905.2" stroke="#333" stroke-width="0.8" opacity="0.52"/><path d="M96.6,889.8V905.2" stroke="#333" stroke-width="0.8" opacity="0.37"/><path d="M83.0,889.8V905.2" stroke="#333" stroke-width="0.8" opacity="0.73"/><path d="M85.5,889.8V905.2" stroke="#333" stroke-width="0.8" opacity="0.48"/><path d="M73.5,889.8V905.2" stroke="#333" stroke-width="0.8" opacity="0.52"/><path d="M110.1,889.8V905.2" stroke="#333" stroke-width="0.8" opacity="0.73"/><path d="M113.1,889.8V905.2" stroke="#333" stroke-width="0.8" opacity="0.35"/><path d="M116.0,889.8V905.2" stroke="#333" stroke-width="0.8" opacity="0.66"/><path d="M119.0,889.8V905.2" stroke="#333" stroke-width="0.8" opacity="0.68"/><path d="M122.6,889.8V905.2" stroke="#333" stroke-width="0.8" opacity="0.7"/><path d="M125.5,889.8V905.2" stroke="#333" stroke-width="0.8" opacity="0.65"/><path d="M132.3,889.8V905.2" stroke="#333" stroke-width="0.8" opacity="0.67"/><path d="M133.8,889.8V905.2" stroke="#333" stroke-width="0.8" opacity="0.56"/><path d="M135.6,889.8V905.2" stroke="#333" stroke-width="0.8" opacity="0.57"/><path d="M137.4,889.8V905.2" stroke="#333" stroke-width="0.8" opacity="0.52"/><path d="M139.8,889.8V905.2" stroke="#333" stroke-width="0.8" opacity="0.37"/><path d="M142.7,889.8V905.2" stroke="#333" stroke-width="0.8" opacity="0.7"/><path d="M146.3,889.8V905.2" stroke="#333" stroke-width="0.8" opacity="0.58"/><path d="M148.7,889.8V905.2" stroke="#333" stroke-width="0.8" opacity="0.43"/><path d="M151.6,889.8V905.2" stroke="#333" stroke-width="0.8" opacity="0.55"/><path d="M154.0,889.8V905.2" stroke="#333" stroke-width="0.8" opacity="0.54"/><path d="M160.5,889.8V905.2" stroke="#333" stroke-width="0.8" opacity="0.49"/><path d="M165.0,889.8V905.2" stroke="#333" stroke-width="0.8" opacity="0.49"/><path d="M169.4,889.8V905.2" stroke="#333" stroke-width="0.8" opacity="0.57"/><path d="M172.4,889.8V905.2" stroke="#333" stroke-width="0.8" opacity="0.6"/><path d="M176.8,889.8V905.2" stroke="#333" stroke-width="0.8" opacity="0.59"/><path d="M178.3,889.8V905.2" stroke="#333" stroke-width="0.8" opacity="0.53"/><path d="M179.8,889.8V905.2" stroke="#333" stroke-width="0.8" opacity="0.36"/><path d="M185.7,889.8V905.2" stroke="#333" stroke-width="0.8" opacity="0.44"/><path d="M194.6,889.8V905.2" stroke="#333" stroke-width="0.8" opacity="0.42"/><path d="M196.7,889.8V905.2" stroke="#333" stroke-width="0.8" opacity="0.58"/><path d="M199.1,889.8V905.2" stroke="#333" stroke-width="0.8" opacity="0.69"/><path d="M201.2,889.8V905.2" stroke="#333" stroke-width="0.8" opacity="0.67"/><path d="M203.0,889.8V905.2" stroke="#333" stroke-width="0.8" opacity="0.67"/><path d="M205.0,889.8V905.2" stroke="#333" stroke-width="0.8" opacity="0.68"/><path d="M209.5,889.8V905.2" stroke="#333" stroke-width="0.8" opacity="0.45"/><path d="M213.9,889.8V905.2" stroke="#333" stroke-width="0.8" opacity="0.69"/><path d="M218.4,889.8V905.2" stroke="#333" stroke-width="0.8" opacity="0.62"/><path d="M222.9,889.8V905.2" stroke="#333" stroke-width="0.8" opacity="0.38"/>
<rect x="56.7" y="905.5" width="171.5" height="5.9" fill="url(#rb)"/>
<path d="M56.7,912.0H63.2C63.5,925.9 64.7,928.5 72.7,928.6L220.2,928.9C221.7,929.1 222.0,931.9 222.0,933.9V948.0H228.2V930.9H56.7Z" fill="#c2c2c2"/>
<path d="M56.7,911.5V949.5H233.2" stroke="#999" stroke-width="0.6" fill="none"/>
<path d="M56.7,949.5V951.0M78.8,949.5V951.0M100.8,949.5V951.0M122.9,949.5V951.0M145.0,949.5V951.0M167.0,949.5V951.0M189.1,949.5V951.0M211.2,949.5V951.0" stroke="#999" stroke-width="0.5"/>
<text x="56.7" y="954.5" font-size="3.5" fill="#777" text-anchor="middle" >0</text>
<text x="78.76666666666667" y="954.5" font-size="3.5" fill="#777" text-anchor="middle" >2,000</text>
<text x="100.83333333333334" y="954.5" font-size="3.5" fill="#777" text-anchor="middle" >4,000</text>
<text x="122.9" y="954.5" font-size="3.5" fill="#777" text-anchor="middle" >6,000</text>
<text x="144.96666666666667" y="954.5" font-size="3.5" fill="#777" text-anchor="middle" >8,000</text>
<text x="167.03333333333333" y="954.5" font-size="3.5" fill="#777" text-anchor="middle" >10,000</text>
<text x="189.10000000000002" y="954.5" font-size="3.5" fill="#777" text-anchor="middle" >12,000</text>
<text x="211.16666666666669" y="954.5" font-size="3.5" fill="#777" text-anchor="middle" >14,000</text>
<path d="M54.7,912.5H56.7M54.7,916.0H56.7M54.7,919.5H56.7M54.7,923.0H56.7M54.7,926.5H56.7M54.7,930.0H56.7M54.7,933.5H56.7M54.7,937.0H56.7M54.7,940.5H56.7M54.7,944.0H56.7M54.7,947.5H56.7" stroke="#aaa" stroke-width="0.5"/>
<path d="M141.2,911.5V949.5" stroke="#666" stroke-width="0.5" stroke-dasharray="1,1"/>
<text x="145.45" y="936.1" font-size="3.6" fill="#555" text-anchor="middle" >Zero cross at 7138</text>
<text x="229.0" y="900.3" font-size="9" fill="#222" text-anchor="start" >Hits</text>
<text x="58.800000000000004" y="920.1" font-size="9.2" fill="#222" text-anchor="start" textLength="54.4" lengthAdjust="spacingAndGlyphs" >LK-2_A939572</text>
<text x="228.79999999999998" y="920.0" font-size="9" fill="#222" text-anchor="end" textLength="45.1" lengthAdjust="spacingAndGlyphs" >LK-2_DMSO</text>
<text x="141.25" y="966.2" font-size="9" fill="#222" text-anchor="middle" textLength="98" lengthAdjust="spacingAndGlyphs" >Ranked in Ordered Dataset</text>
<text transform="translate(40.3,966.6) rotate(-90)" font-size="7.9" fill="#222" textLength="63.4" lengthAdjust="spacingAndGlyphs">Ranked list metric</text>
<text transform="translate(41.2,888.2) rotate(-90)" font-size="8.5" fill="#222" textLength="61.5" lengthAdjust="spacingAndGlyphs">Enrichment score</text>
<text x="303.9" y="807.2" font-size="12" fill="#111" text-anchor="start" textLength="147.4" lengthAdjust="spacingAndGlyphs" >apoptotic signaling pathway</text>
<text x="311.9" y="820.6" font-size="12" fill="#111" text-anchor="start" textLength="132.6" lengthAdjust="spacingAndGlyphs" >in response to ER stress</text>
<path d="M288.2,825.1V889" stroke="#999" stroke-width="0.7"/>
<path d="M286.2,888.8H288.2M286.2,876.7H288.2M286.2,864.5H288.2M286.2,852.4H288.2M286.2,840.2H288.2M286.2,828.1H288.2" stroke="#999" stroke-width="0.5"/>
<text x="285.2" y="890.0" font-size="3.5" fill="#777" text-anchor="end" >0.0</text>
<text x="285.2" y="877.86" font-size="3.5" fill="#777" text-anchor="end" >0.1</text>
<text x="285.2" y="865.72" font-size="3.5" fill="#777" text-anchor="end" >0.2</text>
<text x="285.2" y="853.58" font-size="3.5" fill="#777" text-anchor="end" >0.3</text>
<text x="285.2" y="841.44" font-size="3.5" fill="#777" text-anchor="end" >0.4</text>
<text x="285.2" y="829.3000000000001" font-size="3.5" fill="#777" text-anchor="end" >0.5</text>
<path d="M288.2,825.1H463V889M288.2,888.8H463" stroke="#ddd" stroke-width="0.6" fill="none"/>
<path d="M330.5,825.1V888.8" stroke="#ccc" stroke-width="0.5" stroke-dasharray="1,1"/>
<polyline points="288.2,888.6 299,878.7 300,863.2 301.5,861.3 304.1,860.4 305.3,850.5 307.6,847.3 309.4,839.7 312.3,839.1 313.6,835.9 316.8,832.5 320,832.7 324.4,829.2 327,829.5 330.8,828.6 335.8,831.2 344.7,835.9 355.5,843.5 358.7,844.2 370,851.5 380.7,859.6 387.4,862.9 398.2,869.4 400.9,869.9 409.6,874.3 411.6,874.1 422.3,880.1 429,883.1 435.3,885.1 436.7,879.7 447.8,880.6 459.9,889.5" fill="none" stroke="#3ae83a" stroke-width="1.3" stroke-linejoin="round"/>
<path d="M288.2,889H458.2V905.8" fill="none" stroke="#bbb" stroke-width="0.6"/>
<path d="M295.6,889.8V905.5" stroke="#333" stroke-width="0.8" opacity="0.73"/><path d="M298.0,889.8V905.5" stroke="#333" stroke-width="0.8" opacity="0.73"/><path d="M300.0,889.8V905.5" stroke="#333" stroke-width="0.8" opacity="0.37"/><path d="M304.5,889.8V905.5" stroke="#333" stroke-width="0.8" opacity="0.38"/><path d="M306.0,889.8V905.5" stroke="#333" stroke-width="0.8" opacity="0.68"/><path d="M308.1,889.8V905.5" stroke="#333" stroke-width="0.8" opacity="0.64"/><path d="M310.4,889.8V905.5" stroke="#333" stroke-width="0.8" opacity="0.62"/><path d="M313.4,889.8V905.5" stroke="#333" stroke-width="0.8" opacity="0.47"/><path d="M316.4,889.8V905.5" stroke="#333" stroke-width="0.8" opacity="0.59"/><path d="M319.3,889.8V905.5" stroke="#333" stroke-width="0.8" opacity="0.59"/><path d="M323.8,889.8V905.5" stroke="#333" stroke-width="0.8" opacity="0.58"/><path d="M327.6,889.8V905.5" stroke="#333" stroke-width="0.8" opacity="0.41"/><path d="M331.2,889.8V905.5" stroke="#333" stroke-width="0.8" opacity="0.52"/><path d="M335.6,889.8V905.5" stroke="#333" stroke-width="0.8" opacity="0.51"/><path d="M338.6,889.8V905.5" stroke="#333" stroke-width="0.8" opacity="0.64"/><path d="M355.5,889.8V905.5" stroke="#333" stroke-width="0.8" opacity="0.75"/><path d="M356.7,889.8V905.5" stroke="#333" stroke-width="0.8" opacity="0.73"/><path d="M357.9,889.8V905.5" stroke="#333" stroke-width="0.8" opacity="0.57"/><path d="M360.9,889.8V905.5" stroke="#333" stroke-width="0.8" opacity="0.53"/><path d="M365.3,889.8V905.5" stroke="#333" stroke-width="0.8" opacity="0.46"/><path d="M366.8,889.8V905.5" stroke="#333" stroke-width="0.8" opacity="0.36"/><path d="M374.2,889.8V905.5" stroke="#333" stroke-width="0.8" opacity="0.36"/><path d="M376.3,889.8V905.5" stroke="#333" stroke-width="0.8" opacity="0.54"/><path d="M378.7,889.8V905.5" stroke="#333" stroke-width="0.8" opacity="0.48"/><path d="M381.0,889.8V905.5" stroke="#333" stroke-width="0.8" opacity="0.5"/><path d="M383.1,889.8V905.5" stroke="#333" stroke-width="0.8" opacity="0.71"/><path d="M385.2,889.8V905.5" stroke="#333" stroke-width="0.8" opacity="0.56"/><path d="M387.0,889.8V905.5" stroke="#333" stroke-width="0.8" opacity="0.57"/><path d="M389.0,889.8V905.5" stroke="#333" stroke-width="0.8" opacity="0.44"/><path d="M392.0,889.8V905.5" stroke="#333" stroke-width="0.8" opacity="0.36"/><path d="M395.9,889.8V905.5" stroke="#333" stroke-width="0.8" opacity="0.48"/><path d="M402.4,889.8V905.5" stroke="#333" stroke-width="0.8" opacity="0.4"/><path d="M408.3,889.8V905.5" stroke="#333" stroke-width="0.8" opacity="0.55"/><path d="M411.9,889.8V905.5" stroke="#333" stroke-width="0.8" opacity="0.75"/><path d="M414.3,889.8V905.5" stroke="#333" stroke-width="0.8" opacity="0.62"/><path d="M423.2,889.8V905.5" stroke="#333" stroke-width="0.8" opacity="0.42"/><path d="M430.6,889.8V905.5" stroke="#333" stroke-width="0.8" opacity="0.71"/><path d="M435.0,889.8V905.5" stroke="#333" stroke-width="0.8" opacity="0.67"/><path d="M438.0,889.8V905.5" stroke="#333" stroke-width="0.8" opacity="0.64"/><path d="M443.9,889.8V905.5" stroke="#333" stroke-width="0.8" opacity="0.71"/><path d="M449.9,889.8V905.5" stroke="#333" stroke-width="0.8" opacity="0.66"/><path d="M455.8,889.8V905.5" stroke="#333" stroke-width="0.8" opacity="0.67"/>
<rect x="288.2" y="905.8" width="170.0" height="5.9" fill="url(#rb)"/>
<path d="M288.2,912.3H294.7C295.0,926.1999999999999 296.2,928.8 304.2,928.9L450.2,929.1999999999999C451.7,929.4 452.0,932.1999999999999 452.0,934.1999999999999V948.3H458.2V931.1999999999999H288.2Z" fill="#c2c2c2"/>
<path d="M288.2,911.8V949.8H463.2" stroke="#999" stroke-width="0.6" fill="none"/>
<path d="M288.2,949.8V951.3M310.1,949.8V951.3M331.9,949.8V951.3M353.8,949.8V951.3M375.7,949.8V951.3M397.5,949.8V951.3M419.4,949.8V951.3M441.3,949.8V951.3" stroke="#999" stroke-width="0.5"/>
<text x="288.2" y="954.8" font-size="3.5" fill="#777" text-anchor="middle" >0</text>
<text x="310.06666666666666" y="954.8" font-size="3.5" fill="#777" text-anchor="middle" >2,000</text>
<text x="331.93333333333334" y="954.8" font-size="3.5" fill="#777" text-anchor="middle" >4,000</text>
<text x="353.79999999999995" y="954.8" font-size="3.5" fill="#777" text-anchor="middle" >6,000</text>
<text x="375.66666666666663" y="954.8" font-size="3.5" fill="#777" text-anchor="middle" >8,000</text>
<text x="397.5333333333333" y="954.8" font-size="3.5" fill="#777" text-anchor="middle" >10,000</text>
<text x="419.4" y="954.8" font-size="3.5" fill="#777" text-anchor="middle" >12,000</text>
<text x="441.26666666666665" y="954.8" font-size="3.5" fill="#777" text-anchor="middle" >14,000</text>
<path d="M286.2,912.8H288.2M286.2,916.3H288.2M286.2,919.8H288.2M286.2,923.3H288.2M286.2,926.8H288.2M286.2,930.3H288.2M286.2,933.8H288.2M286.2,937.3H288.2M286.2,940.8H288.2M286.2,944.3H288.2M286.2,947.8H288.2" stroke="#aaa" stroke-width="0.5"/>
<path d="M373.6,911.8V949.8" stroke="#666" stroke-width="0.5" stroke-dasharray="1,1"/>
<text x="376.2" y="936.4" font-size="3.6" fill="#555" text-anchor="middle" >Zero cross at 7138</text>
<text x="459.0" y="900.5999999999999" font-size="9" fill="#222" text-anchor="start" >Hits</text>
<text x="290.3" y="920.4" font-size="9.2" fill="#222" text-anchor="start" textLength="54.4" lengthAdjust="spacingAndGlyphs" >LK-2_A939572</text>
<text x="458.8" y="920.3" font-size="9" fill="#222" text-anchor="end" textLength="45.1" lengthAdjust="spacingAndGlyphs" >LK-2_DMSO</text>
<text x="372.0" y="966.2" font-size="9" fill="#222" text-anchor="middle" textLength="98" lengthAdjust="spacingAndGlyphs" >Ranked in Ordered Dataset</text>
<text transform="translate(271.8,966.6) rotate(-90)" font-size="7.9" fill="#222" textLength="63.4" lengthAdjust="spacingAndGlyphs">Ranked list metric</text>
<text transform="translate(272.7,888.2) rotate(-90)" font-size="8.5" fill="#222" textLength="61.5" lengthAdjust="spacingAndGlyphs">Enrichment score</text>
<text x="547" y="812.5" font-size="12" fill="#111" text-anchor="start" textLength="119.2" lengthAdjust="spacingAndGlyphs" >response to ER stress</text>
<path d="M520.9,825.6V889.8" stroke="#999" stroke-width="0.7"/>
<path d="M518.9,882.2H520.9M518.9,871.5H520.9M518.9,860.8H520.9M518.9,850.0H520.9M518.9,839.3H520.9M518.9,828.6H520.9" stroke="#999" stroke-width="0.5"/>
<text x="517.9" y="883.4000000000001" font-size="3.5" fill="#777" text-anchor="end" >0.0</text>
<text x="517.9" y="872.6800000000001" font-size="3.5" fill="#777" text-anchor="end" >0.1</text>
<text x="517.9" y="861.96" font-size="3.5" fill="#777" text-anchor="end" >0.2</text>
<text x="517.9" y="851.2400000000001" font-size="3.5" fill="#777" text-anchor="end" >0.3</text>
<text x="517.9" y="840.5200000000001" font-size="3.5" fill="#777" text-anchor="end" >0.4</text>
<text x="517.9" y="829.8000000000001" font-size="3.5" fill="#777" text-anchor="end" >0.5</text>
<path d="M520.9,825.6H698V889.8M520.9,882.2H698" stroke="#ddd" stroke-width="0.6" fill="none"/>
<path d="M566.6,825.6V882.2" stroke="#ccc" stroke-width="0.5" stroke-dasharray="1,1"/>
<polyline points="520.7,882.3 526.4,886.4 528.7,867.7 530.3,867 532.8,856.9 534.7,853.3 538.5,848.6 545.5,841 549.3,835.3 551.2,835.9 558.9,834 563.3,831.7 567.1,830.2 570.9,832.7 577.3,834.6 591.3,841.6 600,846.8 612.7,856 625.4,864.1 633.2,868 641,872.3 645.2,873 650.8,875.8 659.3,879 665,877.9 669.2,875.8 672,876.5 675.6,875.8 680.5,878.2 682.6,876.5 686.2,877.6 692.5,882.4" fill="none" stroke="#3ae83a" stroke-width="1.3" stroke-linejoin="round"/>
<path d="M520.9,889.8H692.6V905.9" fill="none" stroke="#bbb" stroke-width="0.6"/>
<path d="M551.9,890.5999999999999V905.6" stroke="#333" stroke-width="0.8" opacity="0.52"/><path d="M566.8,890.5999999999999V905.6" stroke="#333" stroke-width="0.8" opacity="0.55"/><path d="M595.7,890.5999999999999V905.6" stroke="#333" stroke-width="0.8" opacity="0.28"/><path d="M526.5,890.5999999999999V905.6" stroke="#333" stroke-width="0.8" opacity="0.67"/><path d="M554.3,890.5999999999999V905.6" stroke="#333" stroke-width="0.8" opacity="0.37"/><path d="M637.5,890.5999999999999V905.6" stroke="#333" stroke-width="0.8" opacity="0.49"/><path d="M619.5,890.5999999999999V905.6" stroke="#333" stroke-width="0.8" opacity="0.49"/><path d="M597.2,890.5999999999999V905.6" stroke="#333" stroke-width="0.8" opacity="0.33"/><path d="M596.7,890.5999999999999V905.6" stroke="#333" stroke-width="0.8" opacity="0.68"/><path d="M584.1,890.5999999999999V905.6" stroke="#333" stroke-width="0.8" opacity="0.62"/><path d="M600.9,890.5999999999999V905.6" stroke="#333" stroke-width="0.8" opacity="0.28"/><path d="M610.7,890.5999999999999V905.6" stroke="#333" stroke-width="0.8" opacity="0.55"/><path d="M559.0,890.5999999999999V905.6" stroke="#333" stroke-width="0.8" opacity="0.27"/><path d="M622.8,890.5999999999999V905.6" stroke="#333" stroke-width="0.8" opacity="0.49"/><path d="M606.2,890.5999999999999V905.6" stroke="#333" stroke-width="0.8" opacity="0.69"/><path d="M605.7,890.5999999999999V905.6" stroke="#333" stroke-width="0.8" opacity="0.71"/><path d="M569.6,890.5999999999999V905.6" stroke="#333" stroke-width="0.8" opacity="0.65"/><path d="M575.2,890.5999999999999V905.6" stroke="#333" stroke-width="0.8" opacity="0.72"/><path d="M624.3,890.5999999999999V905.6" stroke="#333" stroke-width="0.8" opacity="0.3"/><path d="M540.4,890.5999999999999V905.6" stroke="#333" stroke-width="0.8" opacity="0.36"/><path d="M634.1,890.5999999999999V905.6" stroke="#333" stroke-width="0.8" opacity="0.47"/><path d="M595.8,890.5999999999999V905.6" stroke="#333" stroke-width="0.8" opacity="0.4"/><path d="M582.3,890.5999999999999V905.6" stroke="#333" stroke-width="0.8" opacity="0.44"/><path d="M564.7,890.5999999999999V905.6" stroke="#333" stroke-width="0.8" opacity="0.54"/><path d="M591.0,890.5999999999999V905.6" stroke="#333" stroke-width="0.8" opacity="0.7"/><path d="M602.1,890.5999999999999V905.6" stroke="#333" stroke-width="0.8" opacity="0.71"/><path d="M621.8,890.5999999999999V905.6" stroke="#333" stroke-width="0.8" opacity="0.75"/><path d="M600.9,890.5999999999999V905.6" stroke="#333" stroke-width="0.8" opacity="0.33"/><path d="M622.3,890.5999999999999V905.6" stroke="#333" stroke-width="0.8" opacity="0.73"/><path d="M627.2,890.5999999999999V905.6" stroke="#333" stroke-width="0.8" opacity="0.53"/><path d="M605.7,890.5999999999999V905.6" stroke="#333" stroke-width="0.8" opacity="0.36"/><path d="M619.0,890.5999999999999V905.6" stroke="#333" stroke-width="0.8" opacity="0.54"/><path d="M557.2,890.5999999999999V905.6" stroke="#333" stroke-width="0.8" opacity="0.28"/><path d="M621.5,890.5999999999999V905.6" stroke="#333" stroke-width="0.8" opacity="0.74"/><path d="M535.0,890.5999999999999V905.6" stroke="#333" stroke-width="0.8" opacity="0.65"/><path d="M571.4,890.5999999999999V905.6" stroke="#333" stroke-width="0.8" opacity="0.33"/><path d="M558.2,890.5999999999999V905.6" stroke="#333" stroke-width="0.8" opacity="0.63"/><path d="M623.6,890.5999999999999V905.6" stroke="#333" stroke-width="0.8" opacity="0.27"/><path d="M594.4,890.5999999999999V905.6" stroke="#333" stroke-width="0.8" opacity="0.27"/><path d="M606.2,890.5999999999999V905.6" stroke="#333" stroke-width="0.8" opacity="0.42"/><path d="M624.5,890.5999999999999V905.6" stroke="#333" stroke-width="0.8" opacity="0.74"/><path d="M582.1,890.5999999999999V905.6" stroke="#333" stroke-width="0.8" opacity="0.75"/><path d="M560.0,890.5999999999999V905.6" stroke="#333" stroke-width="0.8" opacity="0.29"/><path d="M592.8,890.5999999999999V905.6" stroke="#333" stroke-width="0.8" opacity="0.27"/><path d="M547.3,890.5999999999999V905.6" stroke="#333" stroke-width="0.8" opacity="0.45"/><path d="M594.0,890.5999999999999V905.6" stroke="#333" stroke-width="0.8" opacity="0.33"/><path d="M529.8,890.5999999999999V905.6" stroke="#333" stroke-width="0.8" opacity="0.68"/><path d="M560.5,890.5999999999999V905.6" stroke="#333" stroke-width="0.8" opacity="0.73"/><path d="M626.3,890.5999999999999V905.6" stroke="#333" stroke-width="0.8" opacity="0.44"/><path d="M577.0,890.5999999999999V905.6" stroke="#333" stroke-width="0.8" opacity="0.51"/><path d="M597.8,890.5999999999999V905.6" stroke="#333" stroke-width="0.8" opacity="0.55"/><path d="M588.2,890.5999999999999V905.6" stroke="#333" stroke-width="0.8" opacity="0.56"/><path d="M631.3,890.5999999999999V905.6" stroke="#333" stroke-width="0.8" opacity="0.5"/><path d="M573.7,890.5999999999999V905.6" stroke="#333" stroke-width="0.8" opacity="0.61"/><path d="M551.9,890.5999999999999V905.6" stroke="#333" stroke-width="0.8" opacity="0.4"/><path d="M635.5,890.5999999999999V905.6" stroke="#333" stroke-width="0.8" opacity="0.51"/><path d="M587.0,890.5999999999999V905.6" stroke="#333" stroke-width="0.8" opacity="0.26"/><path d="M571.9,890.5999999999999V905.6" stroke="#333" stroke-width="0.8" opacity="0.54"/><path d="M527.3,890.5999999999999V905.6" stroke="#333" stroke-width="0.8" opacity="0.56"/><path d="M596.4,890.5999999999999V905.6" stroke="#333" stroke-width="0.8" opacity="0.28"/><path d="M595.9,890.5999999999999V905.6" stroke="#333" stroke-width="0.8" opacity="0.48"/><path d="M601.8,890.5999999999999V905.6" stroke="#333" stroke-width="0.8" opacity="0.43"/><path d="M604.9,890.5999999999999V905.6" stroke="#333" stroke-width="0.8" opacity="0.62"/><path d="M527.5,890.5999999999999V905.6" stroke="#333" stroke-width="0.8" opacity="0.28"/><path d="M601.4,890.5999999999999V905.6" stroke="#333" stroke-width="0.8" opacity="0.73"/><path d="M553.4,890.5999999999999V905.6" stroke="#333" stroke-width="0.8" opacity="0.48"/><path d="M592.0,890.5999999999999V905.6" stroke="#333" stroke-width="0.8" opacity="0.41"/><path d="M566.1,890.5999999999999V905.6" stroke="#333" stroke-width="0.8" opacity="0.41"/><path d="M566.7,890.5999999999999V905.6" stroke="#333" stroke-width="0.8" opacity="0.55"/><path d="M558.9,890.5999999999999V905.6" stroke="#333" stroke-width="0.8" opacity="0.44"/><path d="M612.3,890.5999999999999V905.6" stroke="#333" stroke-width="0.8" opacity="0.26"/><path d="M589.3,890.5999999999999V905.6" stroke="#333" stroke-width="0.8" opacity="0.62"/><path d="M560.0,890.5999999999999V905.6" stroke="#333" stroke-width="0.8" opacity="0.36"/><path d="M615.8,890.5999999999999V905.6" stroke="#333" stroke-width="0.8" opacity="0.37"/><path d="M546.2,890.5999999999999V905.6" stroke="#333" stroke-width="0.8" opacity="0.47"/><path d="M603.9,890.5999999999999V905.6" stroke="#333" stroke-width="0.8" opacity="0.3"/><path d="M561.4,890.5999999999999V905.6" stroke="#333" stroke-width="0.8" opacity="0.42"/><path d="M619.2,890.5999999999999V905.6" stroke="#333" stroke-width="0.8" opacity="0.47"/><path d="M621.7,890.5999999999999V905.6" stroke="#333" stroke-width="0.8" opacity="0.33"/><path d="M563.0,890.5999999999999V905.6" stroke="#333" stroke-width="0.8" opacity="0.58"/><path d="M625.0,890.5999999999999V905.6" stroke="#333" stroke-width="0.8" opacity="0.48"/><path d="M550.4,890.5999999999999V905.6" stroke="#333" stroke-width="0.8" opacity="0.31"/><path d="M584.8,890.5999999999999V905.6" stroke="#333" stroke-width="0.8" opacity="0.35"/><path d="M616.2,890.5999999999999V905.6" stroke="#333" stroke-width="0.8" opacity="0.67"/><path d="M545.7,890.5999999999999V905.6" stroke="#333" stroke-width="0.8" opacity="0.39"/><path d="M616.2,890.5999999999999V905.6" stroke="#333" stroke-width="0.8" opacity="0.57"/><path d="M616.1,890.5999999999999V905.6" stroke="#333" stroke-width="0.8" opacity="0.42"/><path d="M539.7,890.5999999999999V905.6" stroke="#333" stroke-width="0.8" opacity="0.4"/><path d="M614.7,890.5999999999999V905.6" stroke="#333" stroke-width="0.8" opacity="0.39"/><path d="M564.1,890.5999999999999V905.6" stroke="#333" stroke-width="0.8" opacity="0.46"/><path d="M572.4,890.5999999999999V905.6" stroke="#333" stroke-width="0.8" opacity="0.45"/><path d="M629.0,890.5999999999999V905.6" stroke="#333" stroke-width="0.8" opacity="0.33"/><path d="M525.5,890.5999999999999V905.6" stroke="#333" stroke-width="0.8" opacity="0.72"/><path d="M624.4,890.5999999999999V905.6" stroke="#333" stroke-width="0.8" opacity="0.74"/><path d="M574.1,890.5999999999999V905.6" stroke="#333" stroke-width="0.8" opacity="0.73"/><path d="M629.8,890.5999999999999V905.6" stroke="#333" stroke-width="0.8" opacity="0.36"/><path d="M609.2,890.5999999999999V905.6" stroke="#333" stroke-width="0.8" opacity="0.67"/><path d="M599.9,890.5999999999999V905.6" stroke="#333" stroke-width="0.8" opacity="0.51"/><path d="M557.7,890.5999999999999V905.6" stroke="#333" stroke-width="0.8" opacity="0.42"/><path d="M550.7,890.5999999999999V905.6" stroke="#333" stroke-width="0.8" opacity="0.28"/><path d="M591.5,890.5999999999999V905.6" stroke="#333" stroke-width="0.8" opacity="0.39"/><path d="M616.6,890.5999999999999V905.6" stroke="#333" stroke-width="0.8" opacity="0.27"/><path d="M627.1,890.5999999999999V905.6" stroke="#333" stroke-width="0.8" opacity="0.6"/><path d="M629.4,890.5999999999999V905.6" stroke="#333" stroke-width="0.8" opacity="0.7"/><path d="M626.7,890.5999999999999V905.6" stroke="#333" stroke-width="0.8" opacity="0.54"/><path d="M526.5,890.5999999999999V905.6" stroke="#333" stroke-width="0.8" opacity="0.62"/><path d="M544.4,890.5999999999999V905.6" stroke="#333" stroke-width="0.8" opacity="0.4"/><path d="M599.9,890.5999999999999V905.6" stroke="#333" stroke-width="0.8" opacity="0.51"/><path d="M571.8,890.5999999999999V905.6" stroke="#333" stroke-width="0.8" opacity="0.72"/><path d="M594.2,890.5999999999999V905.6" stroke="#333" stroke-width="0.8" opacity="0.42"/><path d="M553.5,890.5999999999999V905.6" stroke="#333" stroke-width="0.8" opacity="0.68"/><path d="M578.9,890.5999999999999V905.6" stroke="#333" stroke-width="0.8" opacity="0.64"/><path d="M564.8,890.5999999999999V905.6" stroke="#333" stroke-width="0.8" opacity="0.35"/><path d="M585.4,890.5999999999999V905.6" stroke="#333" stroke-width="0.8" opacity="0.66"/><path d="M544.4,890.5999999999999V905.6" stroke="#333" stroke-width="0.8" opacity="0.65"/><path d="M629.2,890.5999999999999V905.6" stroke="#333" stroke-width="0.8" opacity="0.65"/><path d="M618.1,890.5999999999999V905.6" stroke="#333" stroke-width="0.8" opacity="0.25"/><path d="M596.0,890.5999999999999V905.6" stroke="#333" stroke-width="0.8" opacity="0.68"/><path d="M530.6,890.5999999999999V905.6" stroke="#333" stroke-width="0.8" opacity="0.39"/><path d="M555.4,890.5999999999999V905.6" stroke="#333" stroke-width="0.8" opacity="0.51"/><path d="M559.2,890.5999999999999V905.6" stroke="#333" stroke-width="0.8" opacity="0.49"/><path d="M565.2,890.5999999999999V905.6" stroke="#333" stroke-width="0.8" opacity="0.25"/><path d="M552.9,890.5999999999999V905.6" stroke="#333" stroke-width="0.8" opacity="0.31"/><path d="M554.1,890.5999999999999V905.6" stroke="#333" stroke-width="0.8" opacity="0.28"/><path d="M568.6,890.5999999999999V905.6" stroke="#333" stroke-width="0.8" opacity="0.68"/><path d="M553.5,890.5999999999999V905.6" stroke="#333" stroke-width="0.8" opacity="0.5"/><path d="M557.4,890.5999999999999V905.6" stroke="#333" stroke-width="0.8" opacity="0.41"/><path d="M558.0,890.5999999999999V905.6" stroke="#333" stroke-width="0.8" opacity="0.57"/><path d="M562.0,890.5999999999999V905.6" stroke="#333" stroke-width="0.8" opacity="0.43"/><path d="M555.2,890.5999999999999V905.6" stroke="#333" stroke-width="0.8" opacity="0.41"/><path d="M554.1,890.5999999999999V905.6" stroke="#333" stroke-width="0.8" opacity="0.53"/><path d="M564.2,890.5999999999999V905.6" stroke="#333" stroke-width="0.8" opacity="0.44"/><path d="M553.4,890.5999999999999V905.6" stroke="#333" stroke-width="0.8" opacity="0.34"/><path d="M558.3,890.5999999999999V905.6" stroke="#333" stroke-width="0.8" opacity="0.55"/><path d="M565.3,890.5999999999999V905.6" stroke="#333" stroke-width="0.8" opacity="0.44"/><path d="M565.6,890.5999999999999V905.6" stroke="#333" stroke-width="0.8" opacity="0.56"/><path d="M559.3,890.5999999999999V905.6" stroke="#333" stroke-width="0.8" opacity="0.44"/><path d="M560.4,890.5999999999999V905.6" stroke="#333" stroke-width="0.8" opacity="0.6"/><path d="M559.1,890.5999999999999V905.6" stroke="#333" stroke-width="0.8" opacity="0.6"/><path d="M559.8,890.5999999999999V905.6" stroke="#333" stroke-width="0.8" opacity="0.37"/><path d="M561.1,890.5999999999999V905.6" stroke="#333" stroke-width="0.8" opacity="0.6"/><path d="M553.2,890.5999999999999V905.6" stroke="#333" stroke-width="0.8" opacity="0.46"/><path d="M559.2,890.5999999999999V905.6" stroke="#333" stroke-width="0.8" opacity="0.69"/><path d="M567.9,890.5999999999999V905.6" stroke="#333" stroke-width="0.8" opacity="0.44"/><path d="M567.3,890.5999999999999V905.6" stroke="#333" stroke-width="0.8" opacity="0.65"/><path d="M556.5,890.5999999999999V905.6" stroke="#333" stroke-width="0.8" opacity="0.48"/><path d="M554.1,890.5999999999999V905.6" stroke="#333" stroke-width="0.8" opacity="0.66"/><path d="M563.3,890.5999999999999V905.6" stroke="#333" stroke-width="0.8" opacity="0.69"/><path d="M565.5,890.5999999999999V905.6" stroke="#333" stroke-width="0.8" opacity="0.58"/><path d="M564.5,890.5999999999999V905.6" stroke="#333" stroke-width="0.8" opacity="0.53"/><path d="M641.0,890.5999999999999V905.6" stroke="#333" stroke-width="0.8" opacity="0.39"/><path d="M643.8,890.5999999999999V905.6" stroke="#333" stroke-width="0.8" opacity="0.59"/><path d="M649.2,890.5999999999999V905.6" stroke="#333" stroke-width="0.8" opacity="0.35"/><path d="M654.6,890.5999999999999V905.6" stroke="#333" stroke-width="0.8" opacity="0.41"/><path d="M657.3,890.5999999999999V905.6" stroke="#333" stroke-width="0.8" opacity="0.66"/><path d="M661.3,890.5999999999999V905.6" stroke="#333" stroke-width="0.8" opacity="0.37"/><path d="M665.3,890.5999999999999V905.6" stroke="#333" stroke-width="0.8" opacity="0.39"/><path d="M672.0,890.5999999999999V905.6" stroke="#333" stroke-width="0.8" opacity="0.39"/><path d="M676.0,890.5999999999999V905.6" stroke="#333" stroke-width="0.8" opacity="0.7"/><path d="M681.4,890.5999999999999V905.6" stroke="#333" stroke-width="0.8" opacity="0.42"/><path d="M686.8,890.5999999999999V905.6" stroke="#333" stroke-width="0.8" opacity="0.36"/>
<rect x="520.9" y="905.9" width="171.70000000000005" height="5.9" fill="url(#rb)"/>
<path d="M520.9,912.4H527.4C527.6999999999999,926.3 528.9,928.9 536.9,929.0L684.6,929.3C686.1,929.5 686.4,932.3 686.4,934.3V948.4H692.6V931.3H520.9Z" fill="#c2c2c2"/>
<path d="M520.9,911.9V949.9H697.6" stroke="#999" stroke-width="0.6" fill="none"/>
<path d="M520.9,949.9V951.4M543.0,949.9V951.4M565.1,949.9V951.4M587.2,949.9V951.4M609.3,949.9V951.4M631.4,949.9V951.4M653.5,949.9V951.4M675.6,949.9V951.4" stroke="#999" stroke-width="0.5"/>
<text x="520.9" y="954.9" font-size="3.5" fill="#777" text-anchor="middle" >0</text>
<text x="542.9933333333333" y="954.9" font-size="3.5" fill="#777" text-anchor="middle" >2,000</text>
<text x="565.0866666666667" y="954.9" font-size="3.5" fill="#777" text-anchor="middle" >4,000</text>
<text x="587.18" y="954.9" font-size="3.5" fill="#777" text-anchor="middle" >6,000</text>
<text x="609.2733333333333" y="954.9" font-size="3.5" fill="#777" text-anchor="middle" >8,000</text>
<text x="631.3666666666667" y="954.9" font-size="3.5" fill="#777" text-anchor="middle" >10,000</text>
<text x="653.46" y="954.9" font-size="3.5" fill="#777" text-anchor="middle" >12,000</text>
<text x="675.5533333333333" y="954.9" font-size="3.5" fill="#777" text-anchor="middle" >14,000</text>
<path d="M518.9,912.9H520.9M518.9,916.4H520.9M518.9,919.9H520.9M518.9,923.4H520.9M518.9,926.9H520.9M518.9,930.4H520.9M518.9,933.9H520.9M518.9,937.4H520.9M518.9,940.9H520.9M518.9,944.4H520.9M518.9,947.9H520.9" stroke="#aaa" stroke-width="0.5"/>
<path d="M605.5,911.9V949.9" stroke="#666" stroke-width="0.5" stroke-dasharray="1,1"/>
<text x="609.75" y="936.5" font-size="3.6" fill="#555" text-anchor="middle" >Zero cross at 7138</text>
<text x="693.4" y="900.6999999999999" font-size="9" fill="#222" text-anchor="start" >Hits</text>
<text x="523.0" y="920.5" font-size="9.2" fill="#222" text-anchor="start" textLength="54.4" lengthAdjust="spacingAndGlyphs" >LK-2_A939572</text>
<text x="693.2" y="920.4" font-size="9" fill="#222" text-anchor="end" textLength="45.1" lengthAdjust="spacingAndGlyphs" >LK-2_DMSO</text>
<text x="605.55" y="966.2" font-size="9" fill="#222" text-anchor="middle" textLength="98" lengthAdjust="spacingAndGlyphs" >Ranked in Ordered Dataset</text>
<text transform="translate(504.5,966.6) rotate(-90)" font-size="7.9" fill="#222" textLength="63.4" lengthAdjust="spacingAndGlyphs">Ranked list metric</text>
<text transform="translate(505.4,888.2) rotate(-90)" font-size="8.5" fill="#222" textLength="61.5" lengthAdjust="spacingAndGlyphs">Enrichment score</text>
</svg></body></html>
